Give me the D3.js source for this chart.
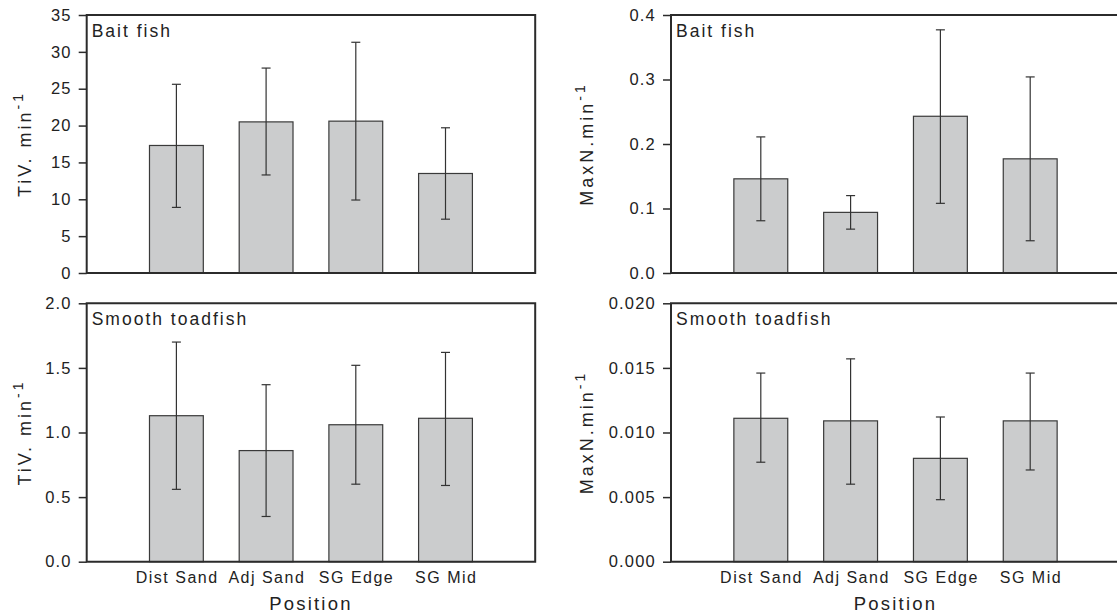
<!DOCTYPE html>
<html>
<head>
<meta charset="utf-8">
<script src="https://cdn.jsdelivr.net/npm/d3@7"></script>
<style>
  html, body { margin: 0; padding: 0; background: #fff; }
  svg { display: block; font-family: "Liberation Sans", Arial, Helvetica, sans-serif; }
</style>
</head>
<body>
<svg id="chart" width="1117" height="616"></svg>
<script>
// ---------- data ----------
const categories = ["Dist Sand", "Adj Sand", "SG Edge", "SG Mid"];

const baitTiVMean  = [17.3, 20.5, 20.6, 13.5];
const baitTiVUpper = [25.6, 27.8, 31.3, 19.7];
const baitTiVLower = [8.9, 13.3, 9.9, 7.3];
const baitTiVTicks = [0, 5, 10, 15, 20, 25, 30, 35];

const baitMaxNMean  = [0.146, 0.094, 0.243, 0.177];
const baitMaxNUpper = [0.211, 0.120, 0.377, 0.304];
const baitMaxNLower = [0.081, 0.068, 0.108, 0.050];
const baitMaxNTicks = [0.0, 0.1, 0.2, 0.3, 0.4];

const toadTiVMean  = [1.13, 0.86, 1.06, 1.11];
const toadTiVUpper = [1.70, 1.37, 1.52, 1.62];
const toadTiVLower = [0.56, 0.35, 0.60, 0.59];
const toadTiVTicks = [0.0, 0.5, 1.0, 1.5, 2.0];

const toadMaxNMean  = [0.0111, 0.0109, 0.0080, 0.0109];
const toadMaxNUpper = [0.0146, 0.0157, 0.0112, 0.0146];
const toadMaxNLower = [0.0077, 0.0060, 0.0048, 0.0071];
const toadMaxNTicks = [0.000, 0.005, 0.010, 0.015, 0.020];

const panelLabels = ["Bait fish", "Smooth toadfish"];
const yTitles = ["TiV. min", "MaxN.min"];
const xTitle = "Position";

// ---------- layout ----------
const svg = d3.select("#chart");
const ink = "#2b2b2b";
const barFill = "#cbcccd";

const cols = [{x0: 86.7, x1: 535.2, titleX: 31}, {x0: 671, x1: 1120, titleX: 593}];
const rows = [{y0: 15, y1: 273}, {y0: 303.3, y1: 561.7}];

const panels = [
  {col: 0, row: 0, mean: baitTiVMean, up: baitTiVUpper, lo: baitTiVLower, ticks: baitTiVTicks, fmt: d3.format("d"), label: panelLabels[0], title: yTitles[0]},
  {col: 1, row: 0, mean: baitMaxNMean, up: baitMaxNUpper, lo: baitMaxNLower, ticks: baitMaxNTicks, fmt: d3.format(".1f"), label: panelLabels[0], title: yTitles[1]},
  {col: 0, row: 1, mean: toadTiVMean, up: toadTiVUpper, lo: toadTiVLower, ticks: toadTiVTicks, fmt: d3.format(".1f"), label: panelLabels[1], title: yTitles[0]},
  {col: 1, row: 1, mean: toadMaxNMean, up: toadMaxNUpper, lo: toadMaxNLower, ticks: toadMaxNTicks, fmt: d3.format(".3f"), label: panelLabels[1], title: yTitles[1]},
];

panels.forEach(p => {
  const c = cols[p.col], r = rows[p.row];
  const slots = ["_l", ...categories, "_r"];
  const x = d3.scalePoint().domain(slots).range([c.x0, c.x1]).padding(0);
  const step = x.step();
  const bw = step * 0.6;
  const y = d3.scaleLinear().domain([p.ticks[0], p.ticks[p.ticks.length - 1]]).range([r.y1, r.y0]);
  const g = svg.append("g");

  const data = categories.map((cat, i) => ({cat, m: p.mean[i], u: p.up[i], l: p.lo[i]}));

  // bars
  g.selectAll("rect.bar").data(data).join("rect")
    .attr("class", "bar")
    .attr("x", d => x(d.cat) - bw / 2)
    .attr("width", bw)
    .attr("y", d => y(d.m))
    .attr("height", d => y(0) - y(d.m))
    .attr("fill", barFill)
    .attr("stroke", "#3a3a3a")
    .attr("stroke-width", 1.2);

  // error bars
  const eb = g.selectAll("g.err").data(data).join("g").attr("class", "err")
    .attr("stroke", "#333").attr("stroke-width", 1.2);
  eb.append("line").attr("x1", d => x(d.cat)).attr("x2", d => x(d.cat))
    .attr("y1", d => y(d.u)).attr("y2", d => y(d.l));
  eb.append("line").attr("x1", d => x(d.cat) - 4.5).attr("x2", d => x(d.cat) + 4.5)
    .attr("y1", d => y(d.u)).attr("y2", d => y(d.u));
  eb.append("line").attr("x1", d => x(d.cat) - 4.5).attr("x2", d => x(d.cat) + 4.5)
    .attr("y1", d => y(d.l)).attr("y2", d => y(d.l));

  // y axis
  const ax = g.append("g").attr("transform", `translate(${c.x0},0)`)
    .call(d3.axisLeft(y).tickValues(p.ticks).tickFormat(p.fmt).tickSize(8).tickPadding(7));
  ax.select(".domain").remove();
  ax.selectAll(".tick line").attr("stroke", ink).attr("stroke-width", 1.5);
  ax.selectAll(".tick text").attr("fill", "#222").style("font-size", "16.5px")
    .style("letter-spacing", "1.2px").attr("font-family", null);

  // frame
  g.append("path")
    .attr("d", `M${c.x0},${r.y0}H${c.x1}V${r.y1}H${c.x0}Z`)
    .attr("fill", "none").attr("stroke", ink).attr("stroke-width", 2);

  // panel label
  g.append("text").attr("x", c.x0 + 5).attr("y", r.y0 + 22)
    .style("font-size", "17.5px").style("letter-spacing", "2px").attr("fill", "#222")
    .text(p.label);

  // y title
  const cy = (r.y0 + r.y1) / 2;
  const t = g.append("text")
    .attr("transform", `translate(${c.titleX},${cy}) rotate(-90)`)
    .attr("text-anchor", "middle").attr("fill", "#222")
    .style("font-size", "18px").style("letter-spacing", "3px");
  t.append("tspan").text(p.title);
  t.append("tspan").attr("dy", -8).style("font-size", "14px").text("-1");

  // x labels for bottom row
  if (p.row === 1) {
    g.selectAll("text.cat").data(categories).join("text")
      .attr("class", "cat")
      .attr("x", d => x(d) + 0.75).attr("y", r.y1 + 21.6)
      .attr("text-anchor", "middle").attr("fill", "#222")
      .style("font-size", "16px").style("letter-spacing", "1.5px")
      .text(d => d);
    g.append("text")
      .attr("x", (c.x0 + Math.min(c.x1, 1120)) / 2).attr("y", 610)
      .attr("text-anchor", "middle").attr("fill", "#222")
      .style("font-size", "18.5px").style("letter-spacing", "2.2px")
      .text(xTitle);
  }
});
</script>
</body>
</html>
